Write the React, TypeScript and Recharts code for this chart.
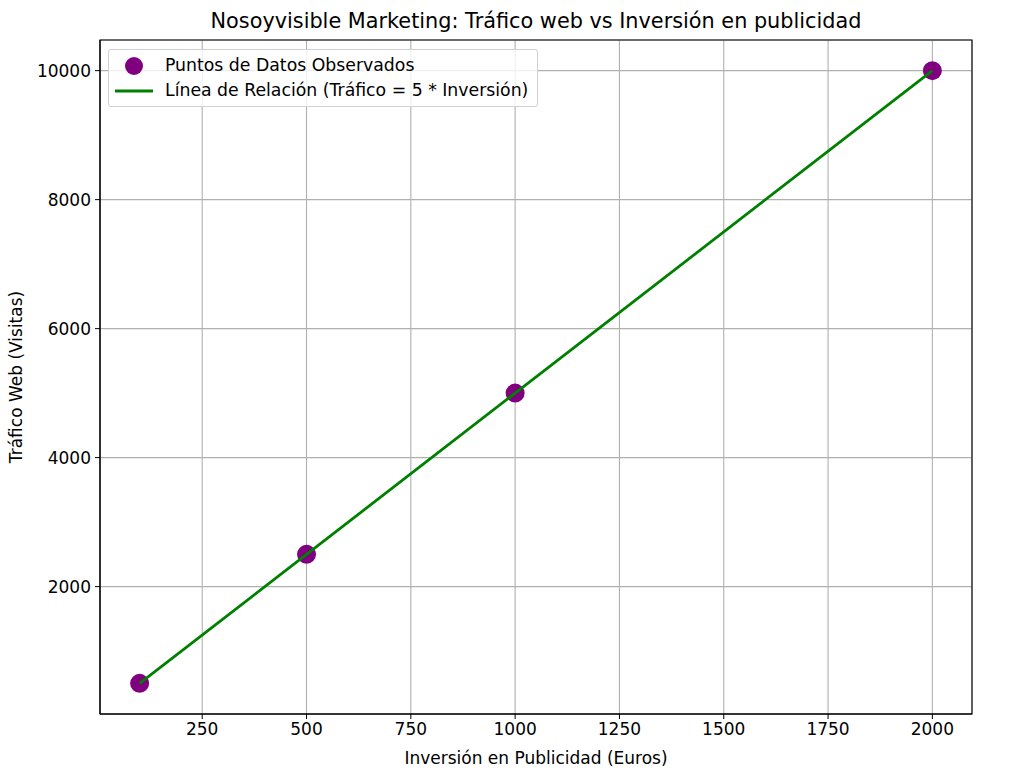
import React from 'react'
import { ComposedChart, Line, Scatter, XAxis, YAxis, CartesianGrid, ReferenceArea } from 'recharts'

const inversion = [100, 500, 1000, 2000]
const trafico = [500, 2500, 5000, 10000]
const xTicks = [250, 500, 750, 1000, 1250, 1500, 1750, 2000]
const yTicks = [2000, 4000, 6000, 8000, 10000]

const puntos = inversion.map((x, i) => ({ x, y: trafico[i] }))

const FONT = '"DejaVu Sans", sans-serif'

const Punto = (props: any) => <circle cx={props.cx} cy={props.cy} r={9.5} fill="#800080" />

export default function App() {
  const tick = { fill: '#000', fontSize: 17, fontFamily: FONT }
  const zScatter: any = { zIndex: 300 }
  const zLine: any = { zIndex: 700 }
  return (
    <div style={{ position: 'absolute', left: 0, top: 0, width: 1034, height: 776, background: '#fff', fontFamily: FONT }}>
      <ComposedChart width={1034} height={776} data={puntos} margin={{ top: 40, right: 62, bottom: 0, left: 0 }}>
        <CartesianGrid stroke="#b0b0b0" strokeWidth={1.1} />
        <XAxis
          dataKey="x"
          type="number"
          domain={[5, 2095]}
          ticks={xTicks}
          allowDataOverflow
          height={62}
          tick={tick}
          tickSize={5}
          tickMargin={4}
          stroke="#000"
        />
        <YAxis
          type="number"
          domain={[25, 10475]}
          ticks={yTicks}
          allowDataOverflow
          width={100}
          tick={tick}
          tickSize={5}
          tickMargin={4}
          stroke="#000"
        />
        <ReferenceArea x1={5} x2={2095} y1={25} y2={10475} fill="none" stroke="#000" strokeWidth={1.1} />
        <Scatter dataKey="y" shape={Punto} isAnimationActive={false} {...zScatter} />
        <Line dataKey="y" type="linear" stroke="#008000" strokeWidth={2.8} dot={false} activeDot={false} isAnimationActive={false} {...zLine} />
      </ComposedChart>

      <div style={{ position: 'absolute', left: 0, width: 1072, top: 9, textAlign: 'center', fontSize: 20.8, color: '#000', whiteSpace: 'nowrap' }}>
        Nosoyvisible Marketing: Tráfico web vs Inversión en publicidad
      </div>
      <div style={{ position: 'absolute', left: 0, width: 1072, top: 748, textAlign: 'center', fontSize: 17, color: '#000', whiteSpace: 'nowrap' }}>
        Inversión en Publicidad (Euros)
      </div>
      <div style={{ position: 'absolute', left: 16, top: 377, width: 0, height: 0 }}>
        <div style={{ position: 'absolute', left: 0, top: 0, transform: 'translate(-50%, -50%) rotate(-90deg)', fontSize: 17, color: '#000', whiteSpace: 'nowrap' }}>
          Tráfico Web (Visitas)
        </div>
      </div>

      <div style={{ position: 'absolute', left: 108, top: 49, width: 430, height: 58, boxSizing: 'border-box', border: '1px solid #d0d0d0', borderRadius: 3, background: 'rgba(255,255,255,0.8)', fontSize: 17.3, color: '#000' }}>
        <svg width={50} height={58} style={{ position: 'absolute', left: 0, top: 0 }}>
          <circle cx={25} cy={16} r={9} fill="#800080" />
          <line x1={6} x2={44} y1={41} y2={41} stroke="#008000" strokeWidth={2.8} />
        </svg>
        <div style={{ position: 'absolute', left: 56, top: 5, whiteSpace: 'nowrap' }}>Puntos de Datos Observados</div>
        <div style={{ position: 'absolute', left: 56, top: 30, whiteSpace: 'nowrap' }}>Línea de Relación (Tráfico = 5 * Inversión)</div>
      </div>
    </div>
  )
}
